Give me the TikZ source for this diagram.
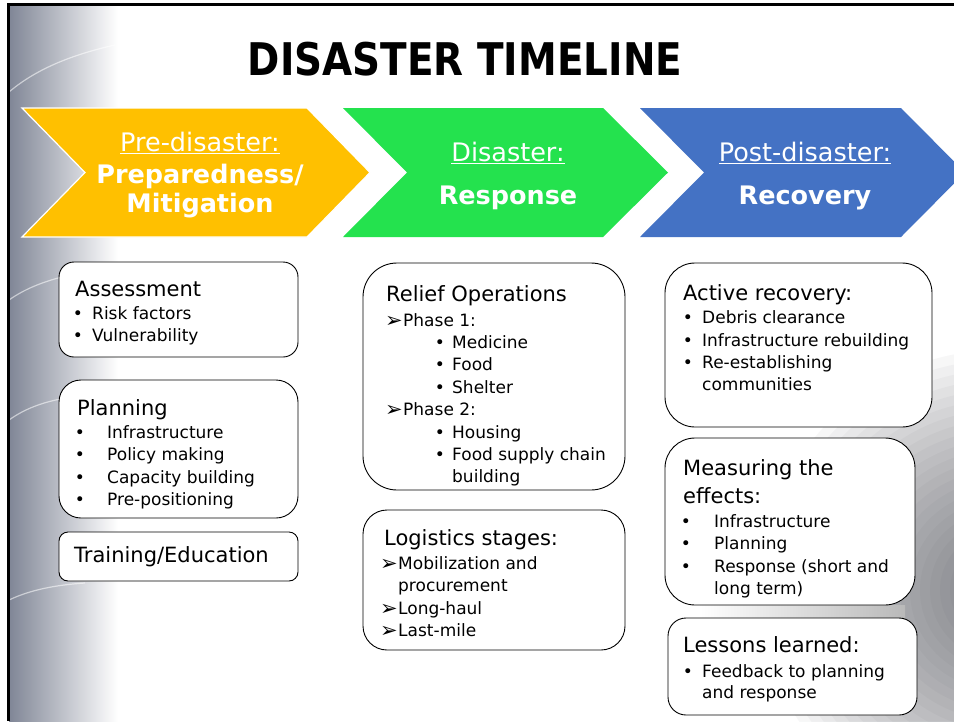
\documentclass[tikz,border=0pt]{standalone}
\usepackage{fontspec}
\setmainfont{DejaVu Sans}
\definecolor{stripA}{RGB}{128,134,150}
\definecolor{stripB}{RGB}{200,204,218}
\definecolor{yel}{RGB}{255,192,0}
\definecolor{grn}{RGB}{36,226,78}
\definecolor{blu}{RGB}{68,114,196}
\definecolor{globe}{RGB}{80,84,92}
\tikzset{
  hd/.style={anchor=base west, inner sep=0pt, font=\fontsize{21}{25}\selectfont},
  it/.style={anchor=base west, inner sep=0pt, font=\fontsize{17}{20}\selectfont},
  bul/.style={anchor=base, inner sep=0pt, font=\fontsize{17}{20}\selectfont},
  arr/.style={anchor=base, inner sep=0pt, font=\fontsize{21}{20}\selectfont},
  chev/.style={draw=white, line width=1.2pt},
  ctop/.style={anchor=base, inner sep=0pt, text=white, font=\fontsize{25.5}{30}\selectfont},
  cbold/.style={anchor=base, inner sep=0pt, text=white, font=\fontsize{25.5}{30}\selectfont\bfseries},
  box/.style={draw=black, fill=white, line width=0.9pt, inner sep=0pt},
  swoosh/.style={draw=white, opacity=0.55, line width=1.2pt},
  globering/.style={fill=globe, opacity=0.045}
}
\begin{document}
\begin{tikzpicture}[x=1pt,y=-1pt]
\useasboundingbox (0,0) rectangle (954,721);
\fill[white] (0,0) rectangle (954,721);
% background decoration
\begin{scope}
  \clip (9,6) rectangle (954,721);
  \foreach \r in {240,230,...,10} { \fill[globering] (1000,590) circle (\r); }
  \shade[left color=white, middle color=gray!65, right color=gray!55] (700,605) rectangle (905,622);
  \shade[left color=stripA, middle color=stripB, right color=white] (9,6) rectangle (118,721);
  \draw[swoosh] (9,92) .. controls (35,70) and (70,55) .. (115,45);
  \draw[swoosh] (9,300) .. controls (30,285) and (60,275) .. (100,270);
  \draw[swoosh] (9,420) .. controls (30,405) and (55,398) .. (90,395);
  \draw[swoosh] (9,600) .. controls (30,590) and (55,585) .. (85,583);
\end{scope}
% frame
\draw[line width=3pt] (7,4.5) -- (954,4.5);
\draw[line width=3pt] (8.5,3) -- (8.5,721);
% title
\node[anchor=base, inner sep=0pt, font=\fontsize{45}{50}\selectfont\bfseries] (title) at (465,75) {\scalebox{0.865}[1]{DISASTER TIMELINE}};
% chevrons
\begin{scope}
  \clip (0,0) rectangle (954,721);
  \fill[yel, chev] (22,108) -- (307,108) -- (370,172.5) -- (307,237) -- (22,237) -- (85,172.5) -- cycle;
  \fill[grn] (343,108) -- (603,108) -- (668,172.5) -- (603,237) -- (343,237) -- (407,172.5) -- cycle;
  \fill[blu] (640,108) -- (901,108) -- (965,172.5) -- (901,237) -- (640,237) -- (704,172.5) -- cycle;
\end{scope}
\node[ctop] (c1a) at (200,151) {\underline{Pre-disaster:}};
\node[cbold] (c1b) at (200,183) {Preparedness/};
\node[cbold] (c1c) at (200,212) {Mitigation};
\node[ctop] (c2a) at (508,161) {\underline{Disaster:}};
\node[cbold] (c2b) at (508,204) {Response};
\node[ctop] (c3a) at (805,161) {\underline{Post-disaster:}};
\node[cbold] (c3b) at (805,204) {Recovery};
% boxes
\node[box, rounded corners=15pt, minimum width=239pt, minimum height=95pt] (boxA) at (178.5,309.5) {};
\node[box, rounded corners=22pt, minimum width=239pt, minimum height=138pt] (boxB) at (178.5,449) {};
\node[box, rounded corners=9pt, minimum width=239pt, minimum height=49pt] (boxC) at (178.5,556.5) {};
\node[box, rounded corners=34pt, minimum width=262pt, minimum height=227pt] (boxD) at (494,376.5) {};
\node[box, rounded corners=24pt, minimum width=262pt, minimum height=140pt] (boxE) at (494,580) {};
\node[box, rounded corners=30pt, minimum width=267pt, minimum height=164pt] (boxF) at (798.5,345) {};
\node[box, rounded corners=30pt, minimum width=250pt, minimum height=167pt] (boxG) at (790,521.5) {};
\node[box, rounded corners=18pt, minimum width=249pt, minimum height=97pt] (boxH) at (792.5,666.5) {};
% column 1
\node[hd] (a0) at (75,296) {Assessment};
\node[bul] (a1b) at (78,319) {•}; \node[it] (a1) at (92,319) {Risk factors};
\node[bul] (a2b) at (78,341) {•}; \node[it] (a2) at (92,341) {Vulnerability};
\node[hd] (b0) at (77,415) {Planning};
\node[bul] (b1b) at (80,438) {•}; \node[it] (b1) at (107,438) {Infrastructure};
\node[bul] (b2b) at (80,460) {•}; \node[it] (b2) at (107,460) {Policy making};
\node[bul] (b3b) at (80,483) {•}; \node[it] (b3) at (107,483) {Capacity building};
\node[bul] (b4b) at (80,505) {•}; \node[it] (b4) at (107,505) {Pre-positioning};
\node[hd] (c0) at (74,562) {Training/Education};
% column 2
\node[hd] (d0) at (386,301) {Relief Operations};
\node[arr] (d1b) at (394,327) {➢}; \node[it] (d1) at (403,326) {Phase 1:};
\node[bul] (d2b) at (440,348) {•}; \node[it] (d2) at (452,348) {Medicine};
\node[bul] (d3b) at (440,370) {•}; \node[it] (d3) at (452,370) {Food};
\node[bul] (d4b) at (440,393) {•}; \node[it] (d4) at (452,393) {Shelter};
\node[arr] (d5b) at (394,416) {➢}; \node[it] (d5) at (403,415) {Phase 2:};
\node[bul] (d6b) at (440,438) {•}; \node[it] (d6) at (452,438) {Housing};
\node[bul] (d7b) at (440,460) {•}; \node[it] (d7) at (452,460) {Food supply chain};
\node[it] (d8) at (452,482) {building};
\node[hd] (e0) at (384,545) {Logistics stages:};
\node[arr] (e1b) at (389,570) {➢}; \node[it] (e1) at (398,569) {Mobilization and};
\node[it] (e2) at (398,591) {procurement};
\node[arr] (e3b) at (389,615) {➢}; \node[it] (e3) at (398,614) {Long-haul};
\node[arr] (e4b) at (389,637) {➢}; \node[it] (e4) at (398,636) {Last-mile};
% column 3
\node[hd] (f0) at (683,300) {Active recovery:};
\node[bul] (f1b) at (688,323) {•}; \node[it] (f1) at (702,323) {Debris clearance};
\node[bul] (f2b) at (688,346) {•}; \node[it] (f2) at (702,346) {Infrastructure rebuilding};
\node[bul] (f3b) at (688,368) {•}; \node[it] (f3) at (702,368) {Re-establishing};
\node[it] (f4) at (702,390) {communities};
\node[hd] (g0) at (683,475) {Measuring the};
\node[hd] (g1) at (683,503) {effects:};
\node[bul] (g2b) at (686,527) {•}; \node[it] (g2) at (714,527) {Infrastructure};
\node[bul] (g3b) at (686,549) {•}; \node[it] (g3) at (714,549) {Planning};
\node[bul] (g4b) at (686,572) {•}; \node[it] (g4) at (714,572) {Response (short and};
\node[it] (g5) at (714,594) {long term)};
\node[hd] (h0) at (683,652) {Lessons learned:};
\node[bul] (h1b) at (688,677) {•}; \node[it] (h1) at (702,677) {Feedback to planning};
\node[it] (h2) at (702,698) {and response};
\end{tikzpicture}
\end{document}
